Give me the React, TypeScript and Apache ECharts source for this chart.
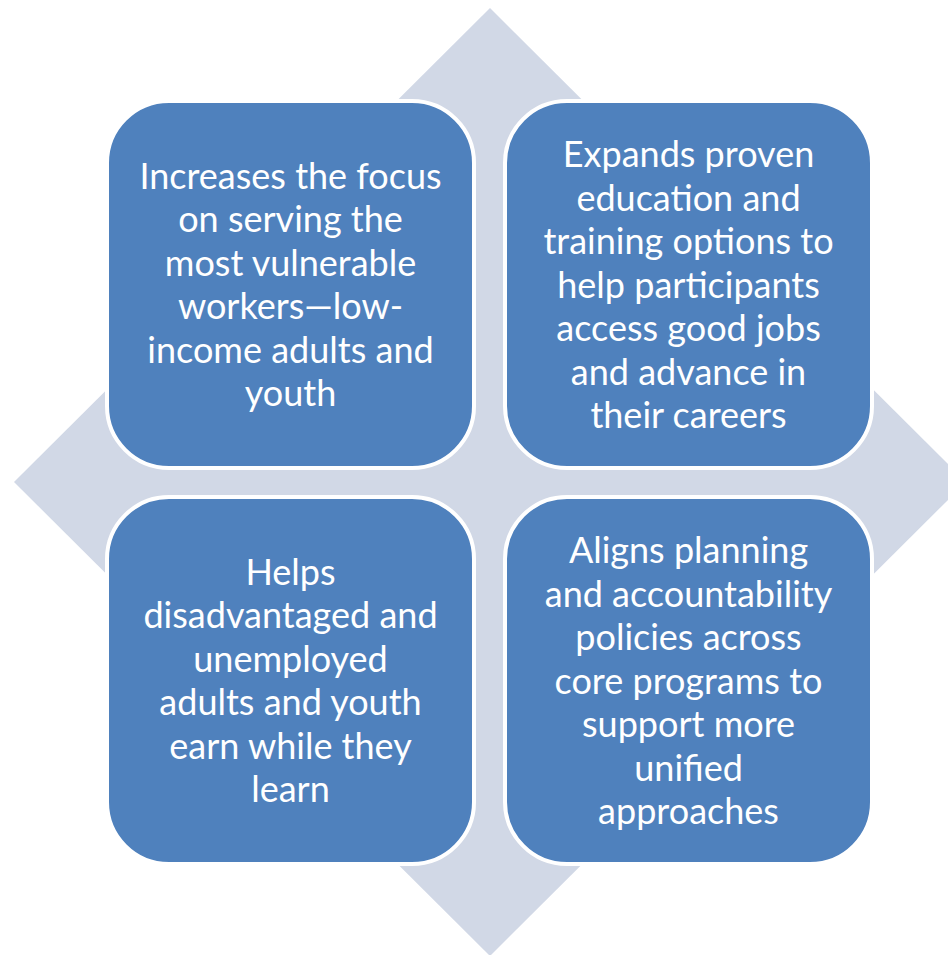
import React, { useEffect, useRef } from "react";
import * as echarts from "echarts";

const boxLabels: string[][] = [
  ["Increases the focus", "on serving the", "most vulnerable", "workers\u2014low-", "income adults and", "youth"],
  ["Expands proven", "education and", "training options to", "help participants", "access good jobs", "and advance in", "their careers"],
  ["Helps", "disadvantaged and", "unemployed", "adults and youth", "earn while they", "learn"],
  ["Aligns planning", "and accountability", "policies across", "core programs to", "support more", "unified", "approaches"],
];
const boxCols = [0, 1, 0, 1];
const boxRows = [0, 0, 1, 1];

export default function App() {
  const ref = useRef<HTMLDivElement>(null);
  useEffect(() => {
    if (!ref.current) return;
    const chart = echarts.init(ref.current, undefined, { renderer: "svg" });
    const cx = 490, cy = 482, hw = 476, hh = 474;
    const boxX = [107, 505];
    const boxY = [101, 497];
    const bw = 367, bh = 367;
    const elements: any[] = [
      {
        type: "polygon",
        shape: { points: [[cx, cy - hh], [cx + hw, cy], [cx, cy + hh], [cx - hw, cy]] },
        style: { fill: "#D1D8E6" },
      },
    ];
    boxLabels.forEach((lines, i) => {
      const x = boxX[boxCols[i]], y = boxY[boxRows[i]];
      elements.push({
        type: "rect",
        shape: { x, y, width: bw, height: bh, r: 62 },
        style: { fill: "#4F81BD", stroke: "#FFFFFF", lineWidth: 4 },
      });
      elements.push({
        type: "text",
        x: x + bw / 2,
        y: y + bh / 2 - 1,
        style: {
          text: lines.join("\n"),
          fill: "#FFFFFF",
          fontSize: 36,
          fontFamily: "Lato, 'Open Sans', sans-serif",
          lineHeight: 43.5,
          align: "center",
          verticalAlign: "middle",
        },
      });
    });
    chart.setOption({ animation: false, graphic: { elements } });
    return () => chart.dispose();
  }, []);
  return <div ref={ref} style={{ position: "fixed", left: 0, top: 0, width: 948, height: 955, background: "#fff" }} />;
}
